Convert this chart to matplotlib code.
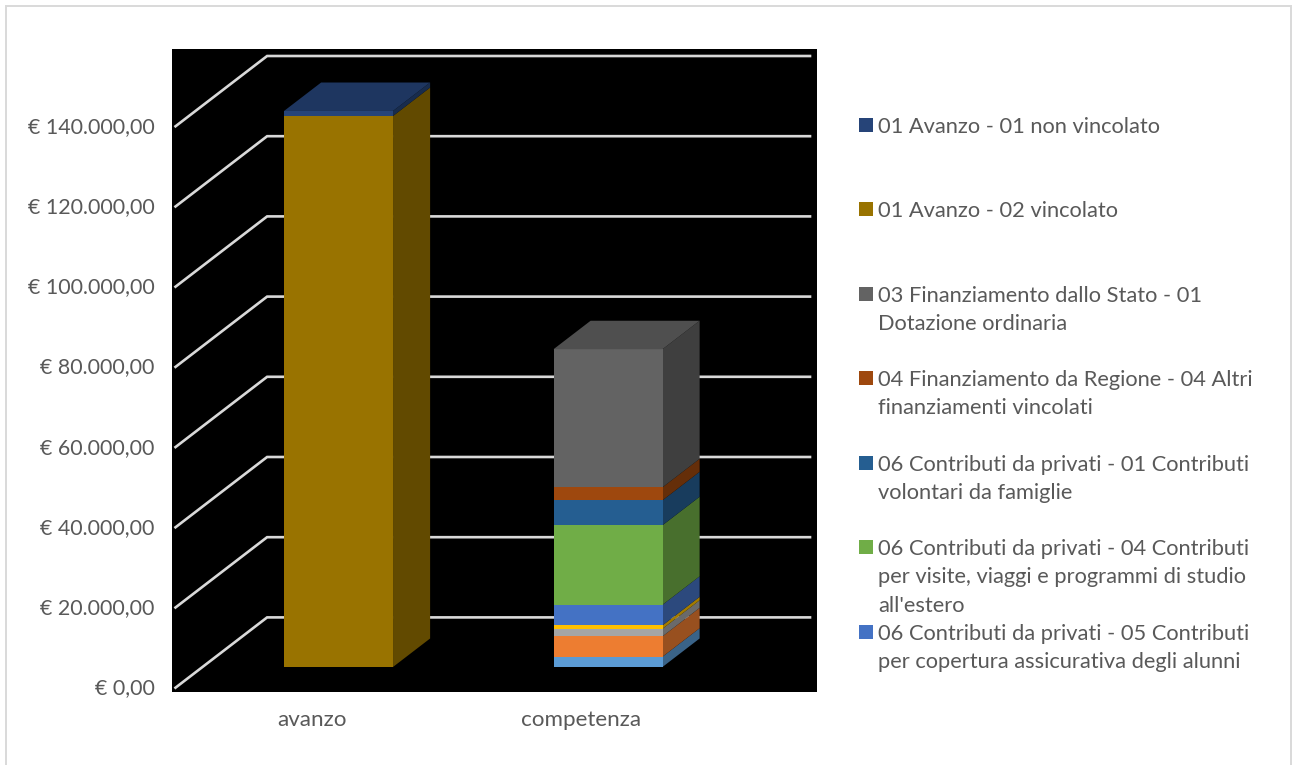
import matplotlib
matplotlib.use("Agg")
import matplotlib.pyplot as plt
from matplotlib.colors import to_rgb
from matplotlib.patches import Rectangle
from matplotlib.ticker import FuncFormatter
from matplotlib.transforms import ScaledTranslation

plt.rcParams['font.family'] = ['Lato', 'DejaVu Sans']

categories = ["avanzo", "competenza"]

# dal basso verso l'alto
series_colors = ["#5B9BD5", "#ED7D31", "#A5A5A5", "#FFC000", "#4472C4", "#70AD47",
                 "#255E91", "#9E480E", "#636363", "#997300", "#264478"]
avanzo_values = [0, 0, 0, 0, 0, 0, 0, 0, 0, 137400, 1250]
competenza_values = [2560, 5080, 1890, 850, 5130, 19840, 6220, 3240, 34430, 0, 0]

y_ticks = [0, 20000, 40000, 60000, 80000, 100000, 120000, 140000]

legend_labels = [
    "01 Avanzo - 01 non vincolato",
    "01 Avanzo - 02 vincolato",
    "03 Finanziamento dallo Stato - 01\nDotazione ordinaria",
    "04 Finanziamento da Regione - 04 Altri\nfinanziamenti vincolati",
    "06 Contributi da privati - 01 Contributi\nvolontari da famiglie",
    "06 Contributi da privati - 04 Contributi\nper visite, viaggi e programmi di studio\nall'estero",
    "06 Contributi da privati - 05 Contributi\nper copertura assicurativa degli alunni",
]
legend_colors = ["#264478", "#997300", "#636363", "#9E480E", "#255E91", "#70AD47", "#4472C4"]
legend_y = [125, 209, 294, 378, 463, 547, 632]  # pixel, prima riga

W, H = 1292, 765
TEXT = "#595959"
FS = 15.75

PX_PER_UNIT = 269.5   # pixel tra due categorie
PX_PER_EURO = 80.2 / 20000
DEPTH_X = 91.6 / PX_PER_UNIT   # profondita' del grafico 3D, in unita' categoria
DEPTH_Y = 70.3 / PX_PER_EURO   # idem in euro
BAR_W = 109 / PX_PER_UNIT
BAR_D0, BAR_D1 = 0.295, 0.70
ZERO_PX = 687.7
CAT0_PX = 311.5


def project(x, v, depth):
    return x + depth * DEPTH_X, v + depth * DEPTH_Y


def shade(color, k):
    return tuple(c * k for c in to_rgb(color))


def draw_face(ax, corners, color, z):
    xs, ys = zip(*[project(*c) for c in corners])
    ax.fill(xs, ys, color=color, lw=0, zorder=z)


def draw_stack(ax, x, values):
    x0, x1 = x - BAR_W / 2, x + BAR_W / 2
    bottom = 0
    top_color = None
    for value, color in zip(values, series_colors):
        if value == 0:
            continue
        top = bottom + value
        draw_face(ax, [(x1, bottom, BAR_D0), (x1, bottom, BAR_D1), (x1, top, BAR_D1), (x1, top, BAR_D0)],
                  shade(color, 0.64), 3)
        draw_face(ax, [(x0, bottom, BAR_D0), (x1, bottom, BAR_D0), (x1, top, BAR_D0), (x0, top, BAR_D0)],
                  color, 4)
        bottom = top
        top_color = color
    draw_face(ax, [(x0, bottom, BAR_D0), (x1, bottom, BAR_D0), (x1, bottom, BAR_D1), (x0, bottom, BAR_D1)],
              shade(top_color, 0.8), 4)


def draw_legend(fig):
    for label, color, y in zip(legend_labels, legend_colors, legend_y):
        fig.add_artist(Rectangle((859 / W, 1 - (y + 7) / H), 14 / W, 14 / H, color=color,
                                 lw=0, transform=fig.transFigure))
        fig.text(878 / W, 1 - (y - 8) / H, label, color=TEXT, fontsize=FS, va="top",
                 linespacing=1.52)


fig = plt.figure(figsize=(W / 100, H / 100), dpi=100, facecolor="white")
# cornice: il bordo inferiore resta fuori dall'immagine
fig.add_artist(Rectangle((6 / W, 1 - 775 / H), 1284.5 / W, 769 / H, fc="white", ec="#d9d9d9", lw=1.4,
                         transform=fig.transFigure, zorder=-1))

ax = fig.add_axes([172 / W, 1 - 692 / H, 645 / W, 643 / H], facecolor="black")
ax.set_xlim((172 - CAT0_PX) / PX_PER_UNIT, (817 - CAT0_PX) / PX_PER_UNIT)
ax.set_ylim((ZERO_PX - 692) / PX_PER_EURO, (ZERO_PX - 49) / PX_PER_EURO)

grid_start = ax.get_xlim()[0] + 3.5 / PX_PER_UNIT
grid_end = ax.get_xlim()[1] - 7 / PX_PER_UNIT
for tick in y_ticks:
    px, py = project(grid_start, tick, 0)
    qx, qy = project(grid_start, tick, 1)
    ax.plot([px, qx, grid_end], [py, qy, qy], color="#d9d9d9", lw=1.9, zorder=1,
            solid_joinstyle="miter")

draw_stack(ax, 0, avanzo_values)
draw_stack(ax, 1, competenza_values)

ax.set_xticks([0, 1], categories)
ax.set_yticks(y_ticks)
ax.yaxis.set_major_formatter(FuncFormatter(
    lambda v, pos: "€ " + f"{v:,.2f}".replace(",", "X").replace(".", ",").replace("X", ".")))
ax.tick_params(length=0, labelcolor=TEXT)
ax.tick_params(axis="y", pad=12.5, labelsize=15.4)
ax.tick_params(axis="x", pad=13, labelsize=16.1)
for label in ax.get_yticklabels():
    label.set_transform(label.get_transform() + ScaledTranslation(0, 1.5 / 100, fig.dpi_scale_trans))
for spine in ax.spines.values():
    spine.set_visible(False)

draw_legend(fig)

fig.savefig("out.png", dpi=100)
